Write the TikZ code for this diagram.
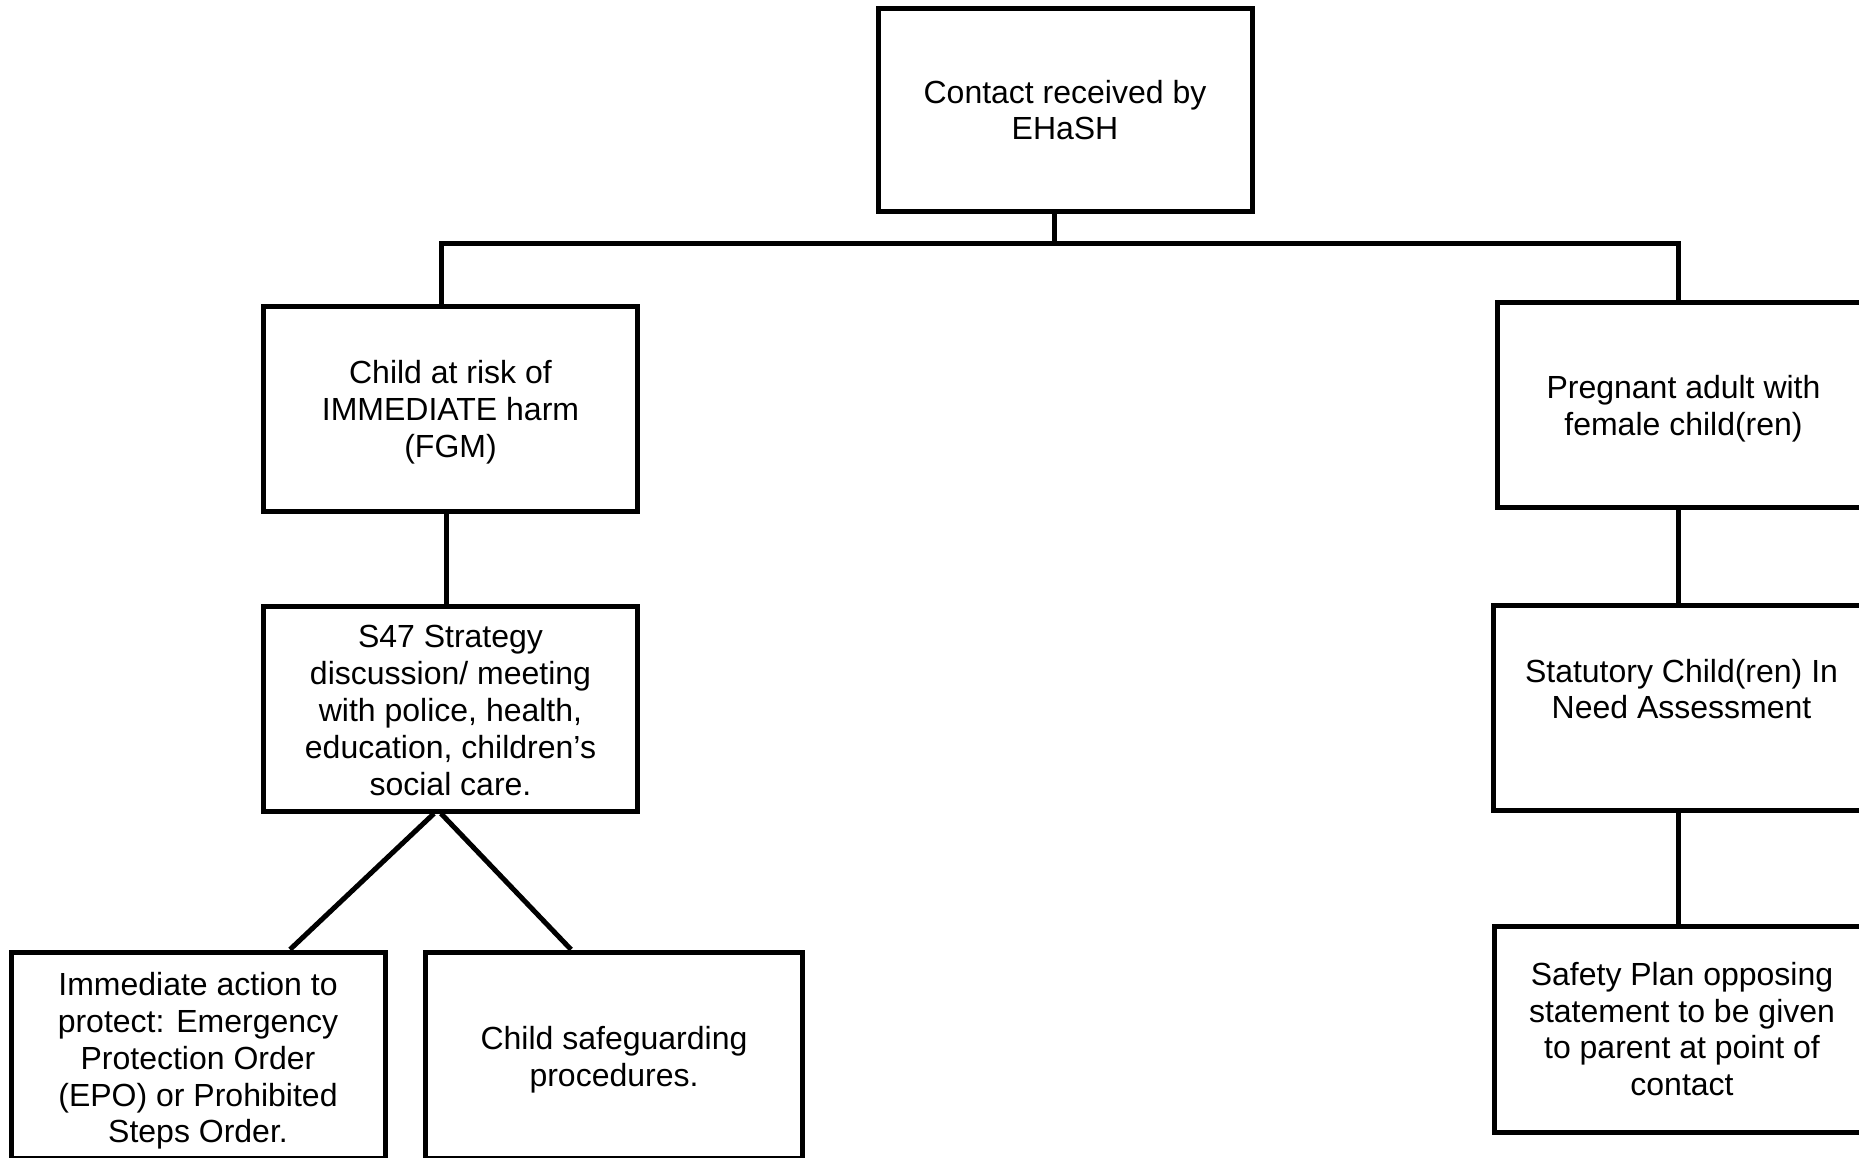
\documentclass[tikz,border=0pt]{standalone}
\usepackage{fontspec}
\setmainfont{Liberation Sans}
\usetikzlibrary{calc}
\begin{document}
\begin{tikzpicture}[x=1pt,y=-1pt,
  box/.style={draw=black,line width=5pt,fill=white,inner sep=0pt,
    minimum width=#1},
  box/.default=374pt,
  txt/.style={inner sep=0pt,align=center,font=\fontsize{32}{36.8}\selectfont},
  conn/.style={line width=5pt,line cap=butt}]
\useasboundingbox (0,0) rectangle (1859,1157);
\clip (0,0) rectangle (1859,1157);
\fill[white] (0,0) rectangle (1859,1157);
% nodes
\node[box, minimum height=203pt,
  label={[txt]center:{Contact received by\\EHaSH}}] (top) at (1065,110) {};
\node[box, minimum height=205pt,
  label={[txt,yshift=-4pt]center:{Child at risk of\\IMMEDIATE harm\\(FGM)}}] (b1) at (450.5,408.5) {};
\node[box, minimum height=205pt,
  label={[txt,yshift=-2pt]center:{S47 Strategy\\discussion/ meeting\\with police, health,\\education, children’s\\social care.}}] (s47) at (450.5,708.5) {};
\node[box, minimum height=206pt,
  label={[txt,yshift=-6pt]center:{Immediate action to\\protect: Emergency\\Protection Order\\(EPO) or Prohibited\\Steps Order.}}] (epo) at (198,1055) {};
\node[box=377pt, minimum height=206pt,
  label={[txt,yshift=-5pt]center:{Child safeguarding\\procedures.}}] (csp) at (614,1055) {};
\node[box=373pt, minimum height=205pt,
  label={[txt,yshift=-4pt]center:{Pregnant adult with\\female child(ren)}}] (preg) at (1683.5,404.5) {};
\node[box=377pt, minimum height=205pt,
  label={[txt,yshift=18.5pt]center:{Statutory Child(ren) In\\Need Assessment}}] (stat) at (1681.5,707.5) {};
\node[box=376pt, minimum height=206pt,
  label={[txt]center:{Safety Plan opposing\\statement to be given\\to parent at point of\\contact}}] (safe) at (1682,1029) {};
% connectors
\coordinate (barL) at (441.5,243.5);
\coordinate (barR) at (1678,243.5);
\coordinate (barM) at (1054,243.5);
\draw[conn] (top.south -| barM) -- (barM);
\draw[conn] ($(barL)+(-2.5,0)$) -- ($(barR)+(2.5,0)$);
\draw[conn] (barL) -- (barL |- b1.north);
\draw[conn] (barR) -- (barR |- preg.north);
\draw[conn] ($(b1.south)+(-4.5,0)$) -- ($(s47.north)+(-4.5,0)$);
\draw[conn] ($(s47.south)+(-16.5,0)$) -- ($(epo.north)+(92,0)$);
\draw[conn] ($(s47.south)+(-9.5,0)$) -- ($(csp.north)+(-43,0)$);
\draw[conn] (preg.south -| barR) -- (stat.north -| barR);
\draw[conn] (stat.south -| barR) -- (safe.north -| barR);
\end{tikzpicture}
\end{document}
